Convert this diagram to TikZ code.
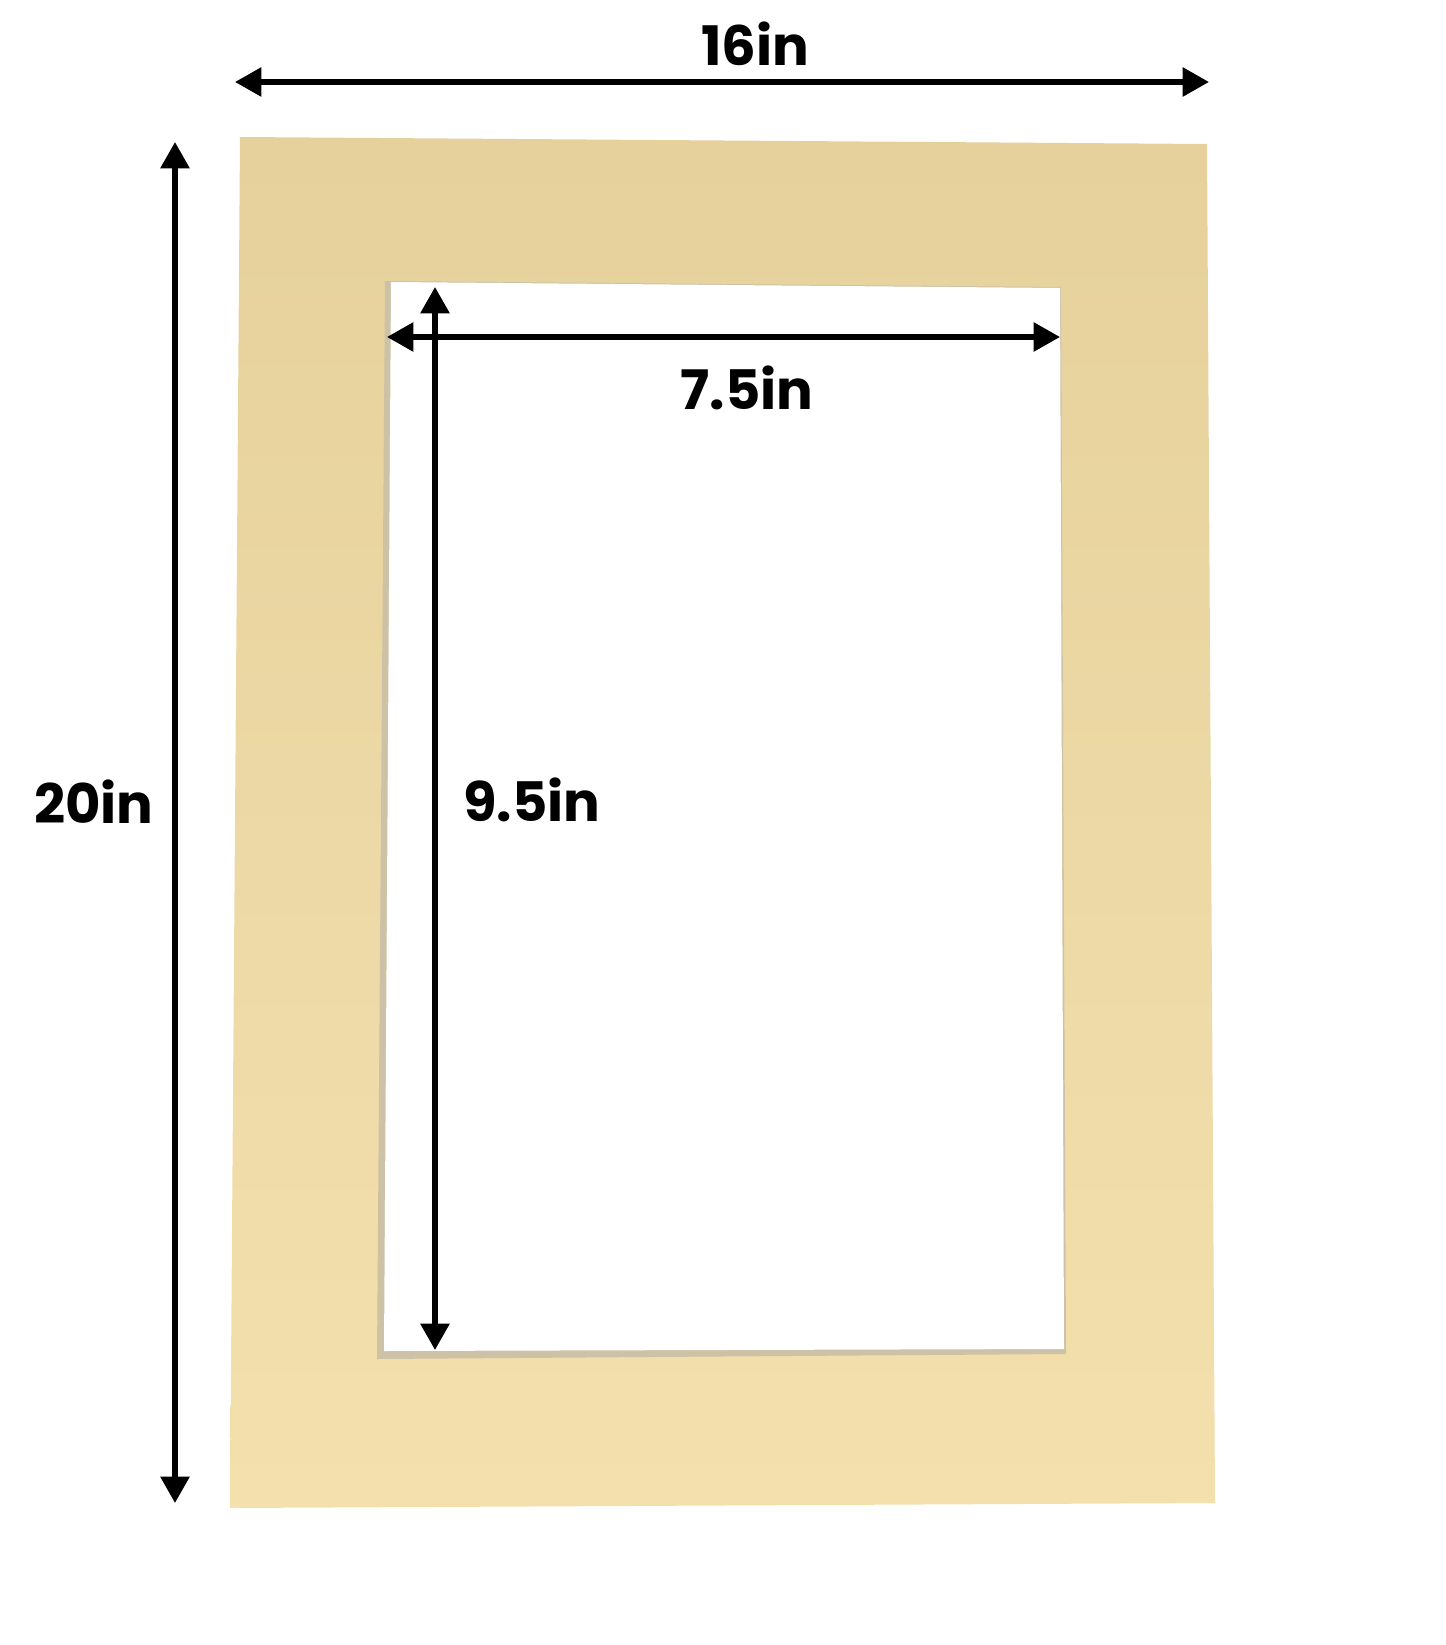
\documentclass[tikz,border=0pt]{standalone}
\usepackage{fontspec}
\setmainfont{Poppins}
\usetikzlibrary{arrows.meta, positioning}
\definecolor{Mat-top}{RGB}{230,209,156}
\definecolor{Mat-bot}{RGB}{243,224,173}
\definecolor{Mat-edge}{RGB}{206,194,166}

\begin{document}
\begin{tikzpicture}[x=0.02cm, y=-0.02cm]
        \tikzset{ dimline/.style ={line width=3.1pt, {Triangle[length=15pt,width=16pt]}-{Triangle[length=15pt,width=16pt]}} }
        \tikzset{ dimtext/.style ={font=\bfseries\fontsize{31}{31}\selectfont, text=black, inner sep=0pt} }

        \useasboundingbox (0,0) rectangle (1445,1645);

        % mat board, slightly skewed like the photo
        \coordinate (mat_tl) at (240, 137);
        \coordinate (mat_tr) at (1207, 144);
        \coordinate (mat_br) at (1215, 1503);
        \coordinate (mat_bl) at (230, 1508);
        \shade[top color=Mat-top, bottom color=Mat-bot] (mat_tl) -- (mat_tr) -- (mat_br) -- (mat_bl) -- cycle;

        % window with its bevel
        \coordinate (win_tl) at (385, 281);
        \coordinate (win_tr) at (1061, 287);
        \coordinate (win_br) at (1066, 1354);
        \coordinate (win_bl) at (377, 1359);
        \fill[Mat-edge] (win_tl) -- (win_tr) -- (win_br) -- (win_bl) -- cycle;
        \fill[white] (391, 282) -- (1060, 288) -- (1064, 1349) -- (384, 1351) -- cycle;

        % outer size
        \coordinate (top_l) at (235, 82);
        \coordinate (top_r) at (1209, 82);
        \coordinate (side_t) at (175, 142);
        \coordinate (side_b) at (175, 1503);
        \draw[dimline] (top_l) -- (top_r);
        \draw[dimline] (side_t) -- (side_b);
        \node[dimtext] (w_out) at (755, 44) {16in};
        \node[dimtext] (h_out) at (94, 802) {20in};

        % opening size
        \coordinate (in_l) at (387, 337);
        \coordinate (in_r) at (1060, 337);
        \coordinate (in_t) at (435, 287);
        \coordinate (in_b) at (435, 1350);
        \draw[dimline] (in_l) -- (in_r);
        \draw[dimline] (in_t) -- (in_b);
        \node[dimtext] (w_in) at (747, 388) {7.5in};
        \node[dimtext] (h_in) at (532, 800) {9.5in};
\end{tikzpicture}
\end{document}
